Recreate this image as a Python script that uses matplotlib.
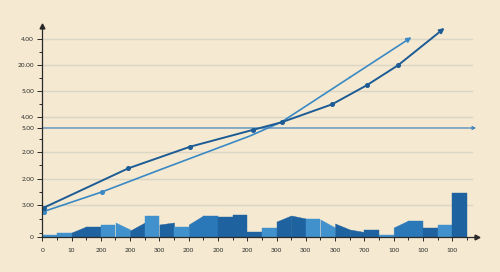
import matplotlib
matplotlib.use("Agg")
import matplotlib.pyplot as plt
import numpy as np

plt.rcParams['font.family'] = ['Lato', 'DejaVu Sans']

BG = '#f5ead1'
DARK = '#1e62a0'
MID = '#2b78b9'
LIGHT = '#4191cd'
LINE_DARK = '#1d5b95'
LINE_LIGHT = '#3a88c4'

# x categories (tick labels)
x_labels = ['0', '10', '200', '200', '300', '200', '200', '200',
            '300', '300', '300', '700', '100', '100', '100']

# y ticks (positions in chart units) and labels
y_ticks = [0, 31.2, 57.8, 84.5, 119.8, 145.8, 171.8, 197.8]
y_tick_labels = ['0', '3.00', '2.00', '2.00', '4.00', '5.00', '20.00', '4.00']
y_minor = [3.8, 17.5, 44.5, 71.2, 97.8, 132.5, 158.5, 184.5]
ref_value = 108.5          # the highlighted "5.00" line
ref_label = '5.00'

# stepped area: per half-slot left/right heights and colour class
area_left = [2, 4, 4, 10, 12, 14, 6, 21, 12, 10, 12, 21, 20, 22, 5,
             9, 15, 21, 18, 17, 13, 7, 7, 2, 9, 16, 9, 12, 43]
area_right = [2, 4, 10, 10, 12, 7, 14, 21, 14, 10, 21, 21, 20, 22, 5,
              9, 21, 18, 18, 9, 7, 4.5, 7, 2, 16, 16, 9, 12, 43]
area_kind = ['L', 'L', 'D', 'D', 'L', 'L', 'D', 'L', 'D', 'L', 'M', 'M', 'D', 'D', 'D',
             'L', 'D', 'D', 'L', 'L', 'D', 'D', 'D', 'L', 'M', 'M', 'D', 'L', 'D']

# dark line series
dark_x = [0.05, 2.94, 5.05, 7.18, 8.17, 9.9, 11.08, 12.15]
dark_y = [28.8, 68.2, 89.8, 106.5, 114.2, 132.2, 151.2, 171.2]
dark_end = (13.74, 208.5)

# light line series
light_x = [0.05, 2.03, 4.0, 7.09, 8.17, 10.5]
light_y = [25.0, 44.5, 66.5, 100.5, 114.5, 159.0]
light_end = (12.61, 199.2)

fig = plt.figure(figsize=(5.0, 2.72), dpi=100, facecolor=BG)
ax = fig.add_axes([0.0846, 0.1305, 0.869, 0.774])
ax.set_facecolor(BG)
x_max = 14.84
ax.set_xlim(0, x_max)
ax.set_ylim(0, 210.5)

# gridlines
grid_x_end = 14.67
for v in y_ticks[1:]:
    ax.plot([0, grid_x_end], [v, v], color='#dbd5c6', lw=1.0, zorder=1)

# highlighted reference line with arrow
ax.annotate('', xy=(x_max - 0.02, ref_value), xytext=(0, ref_value),
            arrowprops=dict(arrowstyle='-|>', color='#4a86bd', lw=0.9,
                            mutation_scale=5, shrinkA=0, shrinkB=0), zorder=2)

# stepped area
colors = {'D': DARK, 'M': MID, 'L': LIGHT}
for k, (hl, hr, kind) in enumerate(zip(area_left, area_right, area_kind)):
    x0, x1 = k * 0.5, (k + 1) * 0.5
    ax.fill_between([x0, x1], [0, 0], [hl, hr], color=colors[kind],
                    lw=0.3, edgecolor=colors[kind], zorder=3)

# lines
ax.plot(dark_x, dark_y, color=LINE_DARK, lw=1.4, zorder=5,
        marker='o', markersize=2.6)
ax.annotate('', xy=dark_end, xytext=(dark_x[-1], dark_y[-1]),
            arrowprops=dict(arrowstyle='-|>', color=LINE_DARK, lw=1.4,
                            mutation_scale=7, shrinkA=0, shrinkB=0), zorder=5)

ax.plot(light_x, light_y, color=LINE_LIGHT, lw=1.2, zorder=4)
ax.plot([light_x[0], light_x[1]], [light_y[0], light_y[1]], ls='none',
        marker='o', markersize=2.6, color=LINE_LIGHT, zorder=4)
ax.annotate('', xy=light_end, xytext=(light_x[-1], light_y[-1]),
            arrowprops=dict(arrowstyle='-|>', color=LINE_LIGHT, lw=1.2,
                            mutation_scale=7, shrinkA=0, shrinkB=0), zorder=4)

# spines / axes
for s in ['top', 'right']:
    ax.spines[s].set_visible(False)
ax.spines['left'].set_color('#2a2a2a')
ax.spines['bottom'].set_color('#2a2a2a')
ax.spines['left'].set_linewidth(0.9)
ax.spines['bottom'].set_linewidth(0.9)
ax.spines['left'].set_zorder(6)
ax.spines['bottom'].set_zorder(6)
ax.plot([0], [1], marker='^', markersize=3.5, color='#2a2a2a',
        transform=ax.transAxes, clip_on=False, zorder=7)
ax.plot([1], [0], marker='>', markersize=3.5, color='#2a2a2a',
        transform=ax.transAxes, clip_on=False, zorder=7)

# ticks
ax.set_xticks(np.arange(len(x_labels)))
ax.set_xticklabels(x_labels)
ax.set_xticks(np.arange(len(x_labels)) + 0.5, minor=True)
ax.set_yticks(y_ticks + [ref_value])
ax.set_yticklabels(y_tick_labels + [ref_label])
ax.set_yticks(y_minor, minor=True)
ax.tick_params(axis='x', which='major', length=3, width=0.7, pad=5,
               labelsize=4.6, colors='#2a2a2a', direction='out')
ax.tick_params(axis='x', which='minor', length=2.5, width=0.7, colors='#2a2a2a')
ax.tick_params(axis='y', which='major', length=3.5, width=0.7, pad=2.5,
               labelsize=4.6, colors='#2a2a2a')
ax.tick_params(axis='y', which='minor', length=2.5, width=0.7, colors='#2a2a2a')

fig.savefig('out.png', dpi=100, facecolor=BG)
